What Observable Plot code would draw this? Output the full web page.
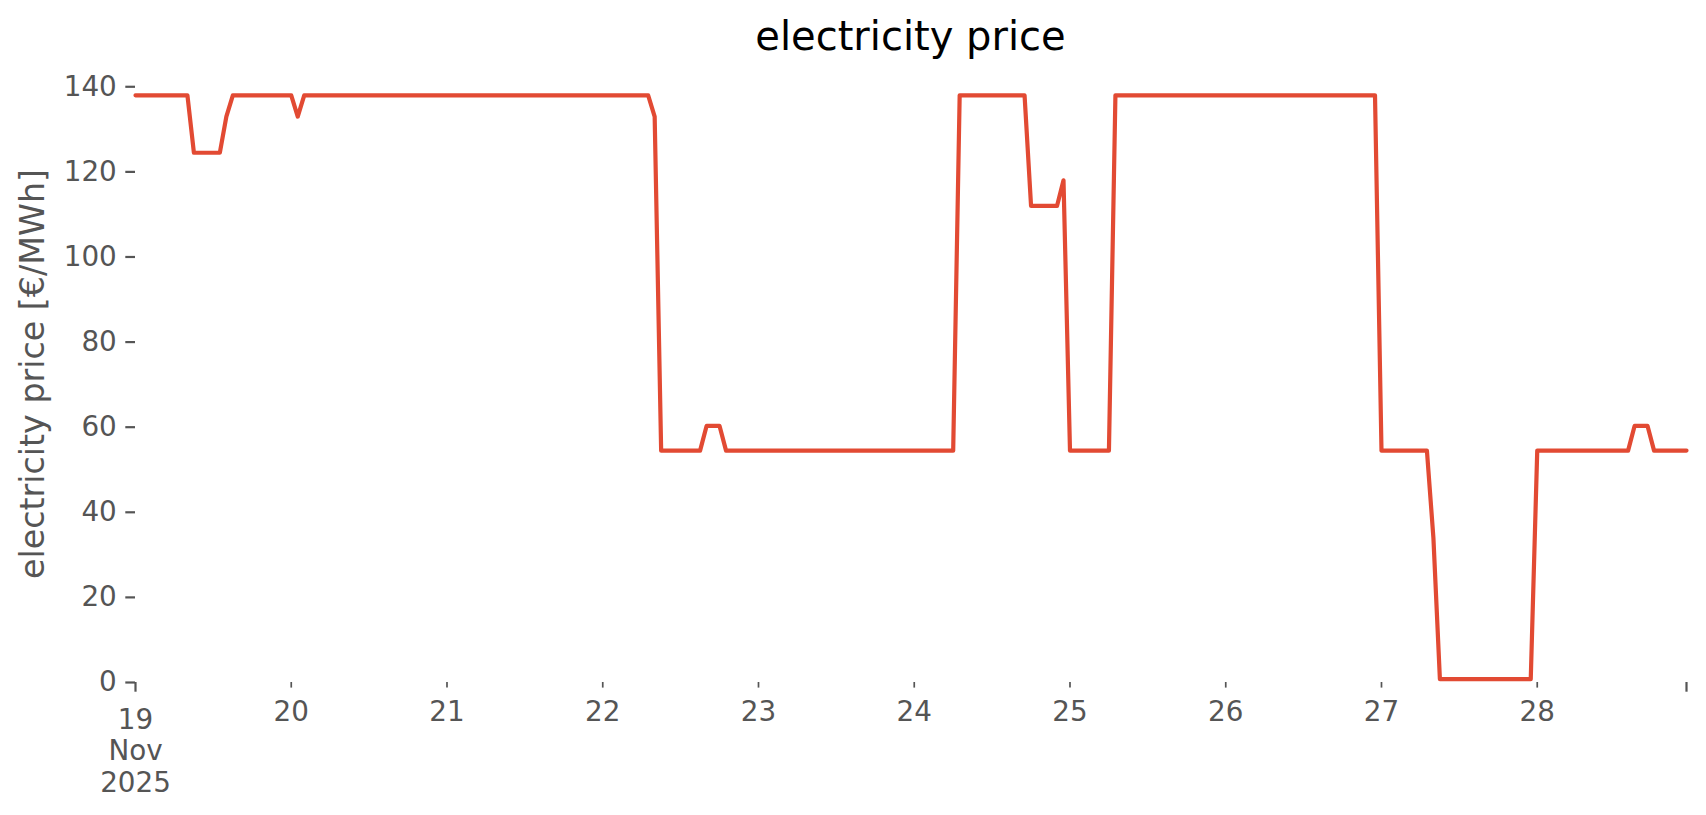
<!DOCTYPE html>
<html>
<head>
<meta charset="utf-8">
<script src="https://cdn.jsdelivr.net/npm/d3@7"></script>
<script src="https://cdn.jsdelivr.net/npm/@observablehq/plot@0.6"></script>
<style>
  html, body { margin: 0; padding: 0; background: #fff; }
  #wrap { position: relative; width: 1706px; height: 815px; font-family: "DejaVu Sans"; }
  #chart { position: absolute; left: 0; top: 0; }
  #title { position: absolute; left: 135px; width: 1551px; top: 16px; text-align: center;
           font-size: 40px; line-height: 40px; color: #000; z-index: 2; }
</style>
</head>
<body>
<div id="wrap">
  <div id="chart"></div>
  <div id="title"></div>
</div>
<script>
// ---- data (vertices of the hourly series) ----
const times = [
  "2025-11-19T00:00Z","2025-11-19T08:00Z","2025-11-19T09:00Z","2025-11-19T13:00Z","2025-11-19T14:00Z","2025-11-19T15:00Z",
  "2025-11-20T00:00Z","2025-11-20T01:00Z","2025-11-20T02:00Z",
  "2025-11-22T07:00Z","2025-11-22T08:00Z","2025-11-22T09:00Z","2025-11-22T15:00Z","2025-11-22T16:00Z","2025-11-22T18:00Z","2025-11-22T19:00Z",
  "2025-11-24T06:00Z","2025-11-24T07:00Z","2025-11-24T17:00Z","2025-11-24T18:00Z","2025-11-24T22:00Z","2025-11-24T23:00Z",
  "2025-11-25T00:00Z","2025-11-25T06:00Z","2025-11-25T07:00Z",
  "2025-11-26T23:00Z","2025-11-27T00:00Z","2025-11-27T07:00Z","2025-11-27T08:00Z","2025-11-27T09:00Z","2025-11-27T23:00Z",
  "2025-11-28T00:00Z","2025-11-28T14:00Z","2025-11-28T15:00Z","2025-11-28T17:00Z","2025-11-28T18:00Z","2025-11-28T23:00Z"
];
const prices = [
  138, 138, 124.5, 124.5, 133, 138,
  138, 133, 138,
  138, 133, 54.5, 54.5, 60.3, 60.3, 54.5,
  54.5, 138, 138, 112, 112, 118,
  54.5, 54.5, 138,
  138, 54.5, 54.5, 34, 0.8, 0.8,
  54.5, 54.5, 60.3, 60.3, 54.5, 54.5
];
const majorTickDates = ["2025-11-19T00:00Z", "2025-11-28T23:00Z"];
const majorTickLabels = ["19\nNov\n2025", ""];
const minorTickDates = ["2025-11-20T00:00Z","2025-11-21T00:00Z","2025-11-22T00:00Z","2025-11-23T00:00Z",
  "2025-11-24T00:00Z","2025-11-25T00:00Z","2025-11-26T00:00Z","2025-11-27T00:00Z","2025-11-28T00:00Z"];
const minorTickLabels = ["20","21","22","23","24","25","26","27","28"];
const yTicks = [0, 20, 40, 60, 80, 100, 120, 140];
const xDomain = ["2025-11-19T00:00Z", "2025-11-28T23:00Z"];
const yDomain = [0, 145];
const titleText = "electricity price";
const yLabelText = "electricity price [€/MWh]";

// ---- build ----
const rows = times.map((t, i) => ({time: new Date(t), price: prices[i]}));
const majors = majorTickDates.map(d => new Date(d));
const minors = minorTickDates.map(d => new Date(d));
const majorFmt = d => majorTickLabels[majors.findIndex(m => +m === +d)];
const minorFmt = d => minorTickLabels[minors.findIndex(m => +m === +d)];

const grey = "#555555";
const chart = Plot.plot({
  width: 1706,
  height: 815,
  marginLeft: 135,
  marginRight: 20,
  marginTop: 65,
  marginBottom: 133,
  style: {fontFamily: "DejaVu Sans", background: "white"},
  x: {type: "utc", domain: xDomain.map(d => new Date(d))},
  y: {domain: yDomain},
  marks: [
    Plot.axisY(yTicks, {
      tickSize: 9.7, tickPadding: 9, fontSize: 27.8, color: grey, strokeWidth: 2.2, label: null
    }),
    Plot.axisX(majors, {
      tickSize: 9.7, tickPadding: 15, tickFormat: majorFmt, fontSize: 27.8, lineHeight: 1.12,
      color: grey, strokeWidth: 2.2, label: null
    }),
    Plot.axisX(minors, {
      tickSize: 5.6, tickPadding: 13, tickFormat: minorFmt, fontSize: 27.8,
      color: grey, strokeWidth: 1.7, label: null
    }),
    Plot.line(rows, {
      x: "time", y: "price", stroke: "#E24A33", strokeWidth: 4.2, strokeLinejoin: "round"
    }),
    Plot.text([yLabelText], {
      text: d => d, frameAnchor: "left", rotate: -90, dx: -92, lineAnchor: "bottom",
      textAnchor: "middle", fontSize: 33.3, fill: grey
    })
  ]
});
document.getElementById("chart").appendChild(chart);
document.getElementById("title").textContent = titleText;
</script>
</body>
</html>
